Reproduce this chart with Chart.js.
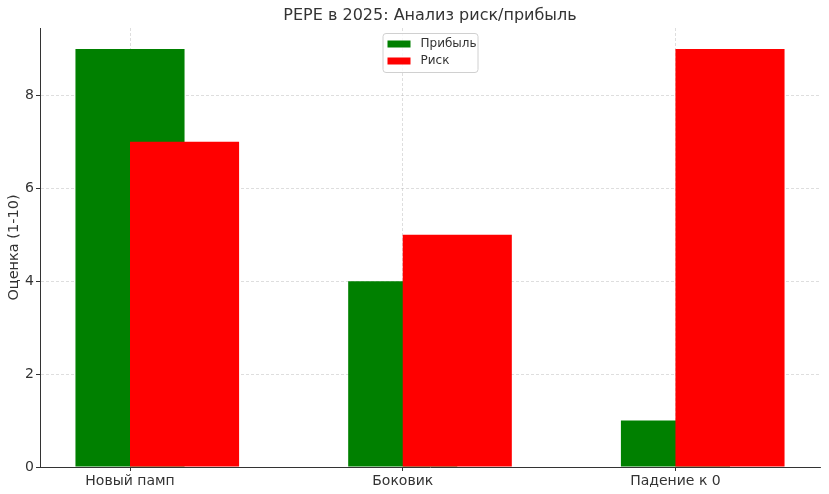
<!DOCTYPE html>
<html>
<head>
<meta charset="utf-8">
<script src="https://cdn.jsdelivr.net/npm/chart.js@4"></script>
<style>
  html, body { margin: 0; padding: 0; background: #fff; }
  #wrap { width: 829px; height: 494px; }
</style>
</head>
<body>
<div id="wrap"><canvas id="chart" width="829" height="494"></canvas></div>
<script>
// Data
const categories = ['Новый памп', 'Боковик', 'Падение к 0'];
const profit = [9, 4, 1];   // Прибыль
const risk = [7, 5, 9];     // Риск
const yTicks = [0, 2, 4, 6, 8];

const chartTitle = 'PEPE в 2025: Анализ риск/прибыль';
const yLabel = 'Оценка (1-10)';

const font = 'DejaVu Sans';
const textColor = '#333';

// bars: width 0.4, the second series shifted by 0.2 (like matplotlib x and x+0.2)
const barW = 0.4;
const lo = -barW / 2;
const hi = categories.length - 1 + barW / 2 + 0.2;
const margin = (hi - lo) * 0.05;

// Title and legend drawn relative to the plot area
const titleAndLegend = {
    id: 'titleAndLegend',
    afterDraw(chart) {
        const ctx = chart.ctx;
        const area = chart.chartArea;
        const cx = (area.left + area.right) / 2;
        ctx.save();
        ctx.fillStyle = textColor;
        ctx.font = '16px "' + font + '"';
        ctx.textAlign = 'center';
        ctx.textBaseline = 'middle';
        ctx.fillText(chartTitle, cx, 15.5);

        // legend box
        const items = chart.data.datasets;
        const w = 95, h = 39;
        const x = cx - w / 2, y = area.top + 5;
        ctx.beginPath();
        ctx.roundRect(x + 0.5, y + 0.5, w, h, 3);
        ctx.fillStyle = 'rgba(255,255,255,0.8)';
        ctx.fill();
        ctx.strokeStyle = '#d0d0d0';
        ctx.lineWidth = 1;
        ctx.stroke();
        ctx.font = '12px "' + font + '"';
        ctx.textAlign = 'left';
        items.forEach(function(ds, i) {
            const ry = y + 11 + i * 17;
            ctx.fillStyle = ds.backgroundColor;
            ctx.fillRect(x + 5, ry - 3.5, 23, 7);
            ctx.fillStyle = textColor;
            ctx.fillText(ds.label, x + 38, ry);
        });
        ctx.restore();
    }
};

const gridColor = 'rgba(180,180,180,0.55)';

new Chart(document.getElementById('chart'), {
    type: 'bar',
    data: {
        datasets: [
            {
                label: 'Прибыль',
                data: profit.map((v, i) => ({ x: i, y: v })),
                backgroundColor: '#008000',
                order: 2
            },
            {
                label: 'Риск',
                data: risk.map((v, i) => ({ x: i + 0.2, y: v })),
                backgroundColor: '#ff0000',
                order: 1
            }
        ]
    },
    options: {
        responsive: false,
        animation: false,
        layout: { padding: { left: 0, right: 9, top: 28, bottom: 0 } },
        datasets: {
            bar: {
                grouped: false,
                categoryPercentage: 1,
                barPercentage: 2,   // min spacing is 0.2 -> bars 0.4 wide
                borderWidth: 0
            }
        },
        plugins: {
            legend: { display: false },
            title: { display: false },
            tooltip: { enabled: false }
        },
        scales: {
            x: {
                type: 'linear',
                z: 1,
                offset: false,
                min: lo - margin,
                max: hi + margin,
                afterBuildTicks: function(scale) {
                    scale.ticks = categories.map((c, i) => ({ value: i }));
                },
                afterFit: function(scale) { scale.height = 27; },
                ticks: {
                    color: textColor,
                    font: { family: font, size: 14 },
                    padding: 2,
                    maxRotation: 0,
                    autoSkip: false,
                    callback: function(value) { return categories[value]; }
                },
                grid: {
                    offset: false,
                    color: gridColor,
                    lineWidth: 0.8,
                    drawTicks: true,
                    tickLength: 4,
                    tickColor: textColor,
                    tickWidth: 1
                },
                border: { display: true, color: textColor, width: 1, dash: [3, 2] }
            },
            y: {
                z: 1,
                min: 0,
                max: 9 * 1.05,
                afterBuildTicks: function(scale) {
                    scale.ticks = yTicks.map(v => ({ value: v }));
                },
                afterFit: function(scale) { scale.width = 40; },
                ticks: {
                    color: textColor,
                    font: { family: font, size: 14 },
                    padding: 2
                },
                grid: {
                    color: gridColor,
                    lineWidth: 0.8,
                    drawTicks: true,
                    tickLength: 4,
                    tickColor: textColor,
                    tickWidth: 1
                },
                border: { display: true, color: textColor, width: 1, dash: [3, 2] },
                title: {
                    display: true,
                    text: yLabel,
                    color: textColor,
                    font: { family: font, size: 14.5 },
                    padding: { top: 6, bottom: 0 }
                }
            }
        }
    },
    plugins: [titleAndLegend]
});
</script>
</body>
</html>
